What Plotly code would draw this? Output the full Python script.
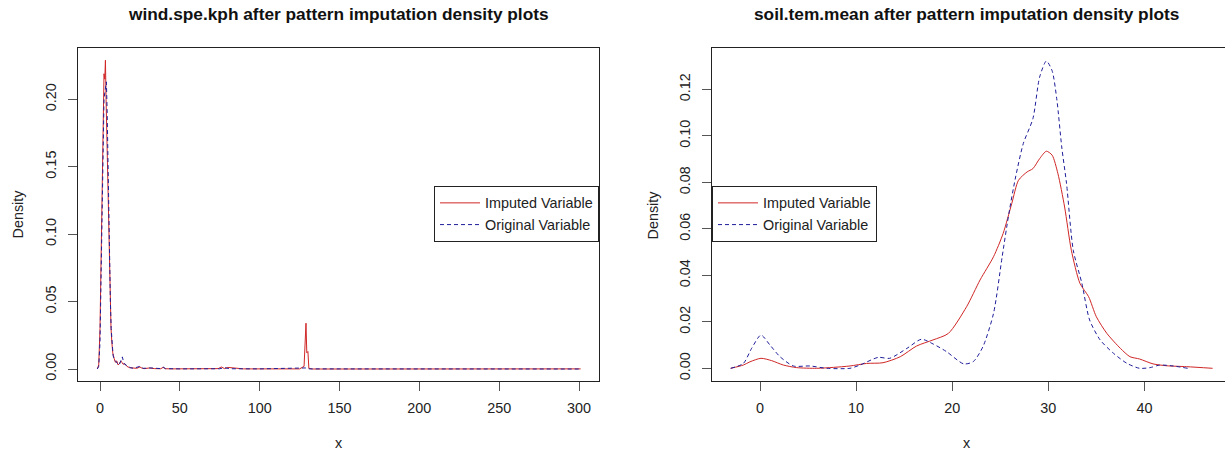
import plotly.graph_objects as go

# ---------------- data ----------------
wind_imp_x = [-1.7, -0.8, 0.0, 0.5, 1.0, 1.5, 2.0, 2.5, 3.0, 3.4, 3.8, 4.2, 4.8, 5.3, 5.8, 6.3, 6.9,
              7.4, 8.0, 8.8, 9.6, 10.5, 11.3, 12.2, 13.0, 13.7, 14.5, 15.5, 16.8, 18.5, 20.5, 23.0,
              25.0, 26.5, 28.0, 31.0, 34.0, 38.0, 39.5, 41.0, 45.0, 55.0, 65.0, 74.0, 76.0, 78.0,
              80.0, 90.0, 110.0, 125.0, 127.8, 128.5, 129.0, 129.5, 130.2, 130.8, 133.0, 150.0,
              200.0, 250.0, 301.0]
wind_imp_y = [0.0, 0.003, 0.03, 0.07, 0.11, 0.165, 0.2, 0.219, 0.215, 0.229, 0.2, 0.178, 0.145, 0.11,
              0.086, 0.046, 0.03, 0.02, 0.012, 0.008, 0.005, 0.006, 0.003, 0.004, 0.006, 0.005, 0.0035,
              0.004, 0.002, 0.001, 0.0008, 0.0005, 0.0015, 0.0005, 0.0003, 0.0008, 0.0003, 0.0002,
              0.0012, 0.0002, 0.0001, 0.0001, 0.0001, 0.0003, 0.0015, 0.0003, 0.0012, 0.0001, 0.0001,
              0.0001, 0.002, 0.027, 0.034, 0.012, 0.013, 0.0005, 0.0, 0.0, 0.0, 0.0, 0.0001]

wind_org_x = [-1.7, -0.8, 0.0, 0.5, 1.0, 1.5, 2.0, 2.5, 3.0, 3.5, 4.0, 4.5, 5.0, 5.5, 6.0, 6.5, 7.0,
              7.5, 8.2, 9.0, 10.0, 11.0, 12.0, 13.0, 14.0, 15.0, 16.0, 17.5, 19.0, 21.0, 25.0, 27.0,
              32.0, 38.0, 39.5, 41.0, 50.0, 75.0, 78.0, 81.0, 100.0, 129.0, 131.0, 200.0, 301.0]
wind_org_y = [0.0, 0.002, 0.02, 0.06, 0.10, 0.15, 0.18, 0.2, 0.205, 0.21, 0.213, 0.19, 0.15, 0.12,
              0.08, 0.05, 0.03, 0.018, 0.01, 0.007, 0.005, 0.004, 0.003, 0.006, 0.009, 0.004, 0.003,
              0.002, 0.001, 0.0005, 0.002, 0.0005, 0.0008, 0.0003, 0.0015, 0.0003, 0.0001, 0.0002,
              0.001, 0.0002, 0.0001, 0.0008, 0.0001, 0.0, 0.0]

soil_imp_x = [-3.05, -1.73, -1.04, 0.10, 1.21, 2.43, 3.82, 5.9, 7.63, 9.36, 11.1, 12.8, 14.6, 16.3,
              18.0, 19.6, 21.5, 22.9, 24.3, 25.3, 26.2, 26.9, 27.8, 28.4, 29.1, 29.8, 30.4, 31.0,
              31.7, 32.4, 33.3, 34.2, 35.0, 36.1, 37.5, 38.5, 39.5, 40.9, 42.3, 44.4, 47.1]
soil_imp_y = [0.0, 0.0014, 0.0028, 0.0043, 0.0033, 0.0014, 0.0003, 0.0, 0.0004, 0.001, 0.0021, 0.0024,
              0.005, 0.0096, 0.0122, 0.015, 0.0265, 0.038, 0.048, 0.058, 0.0709, 0.0809, 0.0845,
              0.0859, 0.0902, 0.0934, 0.0917, 0.0838, 0.0694, 0.0508, 0.0365, 0.0308, 0.0222, 0.015,
              0.0086, 0.005, 0.004, 0.0019, 0.0011, 0.0007, 0.0]

soil_org_x = [-3.05, -1.73, -0.87, 0.10, 1.04, 2.08, 3.47, 5.2, 6.94, 9.36, 10.4, 12.3, 13.5, 15.3,
              16.8, 18.0, 19.4, 21.2, 22.2, 23.2, 24.3, 25.2, 25.9, 26.6, 27.4, 28.4, 29.1, 29.8,
              30.4, 30.9, 31.4, 31.9, 32.6, 33.5, 34.3, 35.4, 36.8, 38.2, 39.5, 40.6, 41.6, 43.0, 44.5]
soil_org_y = [0.0, 0.0021, 0.0086, 0.0143, 0.01, 0.005, 0.001, 0.001, 0.0, 0.0, 0.0014, 0.0047, 0.0043,
              0.0086, 0.0125, 0.0105, 0.0072, 0.0019, 0.0029, 0.0093, 0.0236, 0.048, 0.0666, 0.0823,
              0.0967, 0.1074, 0.1253, 0.1322, 0.128, 0.1153, 0.0952, 0.0795, 0.0508, 0.0365, 0.0208,
              0.0122, 0.0064, 0.0021, 0.0, 0.0003, 0.0014, 0.001, 0.0]

left_xticks = [0, 50, 100, 150, 200, 250, 300]
left_yticks = [0.00, 0.05, 0.10, 0.15, 0.20]
right_xticks = [0, 10, 20, 30, 40]
right_yticks = [0.00, 0.02, 0.04, 0.06, 0.08, 0.10, 0.12]

titles = ["wind.spe.kph after pattern imputation density plots",
          "soil.tem.mean after pattern imputation density plots"]
names = ["Imputed Variable", "Original Variable"]

# ---------------- style ----------------
W, H = 1225, 454
RED = "#D02626"
BLUE = "#1E1E9A"
FONT = "Liberation Sans, Arial, sans-serif"
TICK = 14.4
TOP, BOT = 48, 381


def px_x(p):
    return p / W


def px_y(p):
    return (H - p) / H


fig = go.Figure()

fig.add_trace(go.Scatter(x=wind_imp_x, y=wind_imp_y, mode="lines", name=names[0],
                         line=dict(color=RED, width=1), xaxis="x", yaxis="y", legend="legend"))
fig.add_trace(go.Scatter(x=wind_org_x, y=wind_org_y, mode="lines", name=names[1],
                         line=dict(color=BLUE, width=1, dash="4px,3px"), xaxis="x", yaxis="y",
                         legend="legend"))
fig.add_trace(go.Scatter(x=soil_imp_x, y=soil_imp_y, mode="lines", name=names[0],
                         line=dict(color=RED, width=1, shape="spline", smoothing=0.7),
                         xaxis="x2", yaxis="y2", legend="legend2"))
fig.add_trace(go.Scatter(x=soil_org_x, y=soil_org_y, mode="lines", name=names[1],
                         line=dict(color=BLUE, width=1, dash="4px,3px", shape="spline",
                                   smoothing=0.7),
                         xaxis="x2", yaxis="y2", legend="legend2"))

axis_common = dict(showgrid=False, zeroline=False, showline=True, linecolor="#222222", linewidth=1,
                   ticks="outside", ticklen=9, tickcolor="#555555", tickwidth=1,
                   tickfont=dict(family=FONT, size=TICK, color="#222222"))

L0, L1 = 78, 599
R0, R1 = 712, 1225

fig.update_layout(
    width=W, height=H, margin=dict(l=0, r=0, t=0, b=0),
    paper_bgcolor="white", plot_bgcolor="white",
    xaxis=dict(domain=[px_x(L0), px_x(L1)], range=[-13.78, 312.5], tickvals=left_xticks,
               anchor="y", mirror=True, ticklabelstandoff=5, **axis_common),
    yaxis=dict(domain=[px_y(BOT), px_y(TOP)], range=[-0.00889, 0.2381], tickvals=left_yticks,
               tickformat=".2f", tickangle=-90, anchor="x", mirror=True, ticklabelstandoff=6,
               **axis_common),
    xaxis2=dict(domain=[px_x(R0), 1.0], range=[-4.995, 48.39], tickvals=right_xticks,
                anchor="y2", mirror=True, ticklabelstandoff=5, **axis_common),
    yaxis2=dict(domain=[px_y(BOT), px_y(TOP)], range=[-0.00546, 0.1378], tickvals=right_yticks,
                tickformat=".2f", tickangle=-90, anchor="x2", mirror=False, ticklabelstandoff=6,
                **axis_common),
    legend=dict(x=px_x(L1), xanchor="right", y=px_y(214), yanchor="middle",
                bordercolor="#222222", borderwidth=1, bgcolor="white",
                font=dict(family=FONT, size=TICK, color="#222222"), tracegroupgap=0,
                itemwidth=40),
    legend2=dict(x=px_x(R0), xanchor="left", y=px_y(214), yanchor="middle",
                 bordercolor="#222222", borderwidth=1, bgcolor="white",
                 font=dict(family=FONT, size=TICK, color="#222222"), tracegroupgap=0,
                 itemwidth=40),
    showlegend=True,
)

annots = []
for cx, t in [((L0 + L1) / 2, titles[0]), ((R0 + 1221) / 2, titles[1])]:
    annots.append(dict(text="<b>" + t + "</b>", x=px_x(cx), y=px_y(14), xref="paper", yref="paper",
                       xanchor="center", yanchor="middle", showarrow=False,
                       font=dict(family=FONT, size=17.3, color="#111111")))
for cx in [(L0 + L1) / 2, (R0 + 1221) / 2]:
    annots.append(dict(text="x", x=px_x(cx), y=px_y(443), xref="paper", yref="paper",
                       xanchor="center", yanchor="middle", showarrow=False,
                       font=dict(family=FONT, size=TICK, color="#222222")))
for cx in [18, 653]:
    annots.append(dict(text="Density", x=px_x(cx), y=px_y((TOP + BOT) / 2), xref="paper",
                       yref="paper", xanchor="center", yanchor="middle", textangle=-90,
                       showarrow=False, font=dict(family=FONT, size=TICK, color="#222222")))
fig.update_layout(annotations=annots)

fig.write_html("out.html")
